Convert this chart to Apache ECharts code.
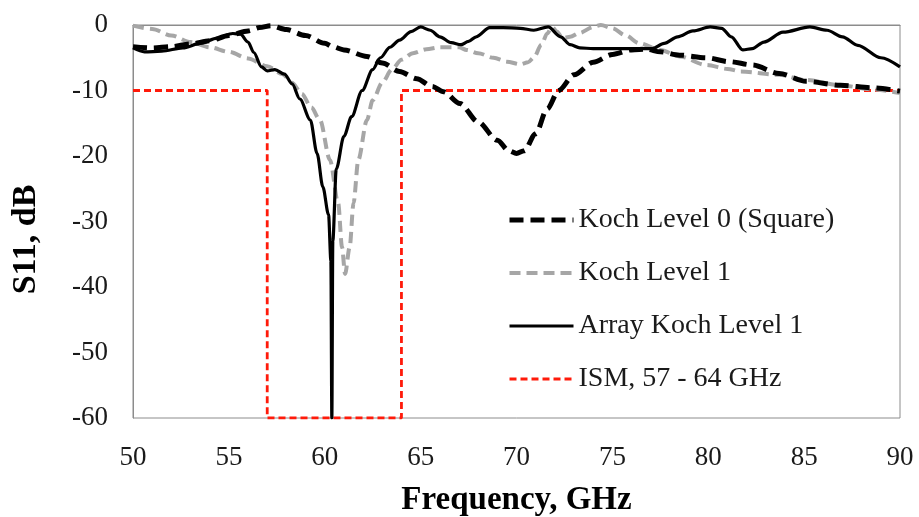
<!DOCTYPE html>
<html>
<head>
<meta charset="utf-8">
<script src="https://cdn.jsdelivr.net/npm/echarts@6/dist/echarts.min.js"></script>
<style>
  html, body { margin: 0; padding: 0; background: #fff; }
  #chart { width: 919px; height: 517px; }
</style>
</head>
<body>
<div id="chart"></div>
<script>
// x轴刻度
const xTicks = [50, 55, 60, 65, 70, 75, 80, 85, 90]
const yTicks = [0, -10, -20, -30, -40, -50, -60]

// Koch Level 0 (Square)
const k0Freq = [50, 51, 52, 53, 54, 55, 56, 56.6, 57.2, 58, 59, 60, 60.4, 61, 62.2, 63, 63.9, 64.8, 65.6, 66.2, 67.05, 68, 69, 69.6, 70, 70.4, 71, 71.6, 72.2, 73, 74, 75, 76, 76.8, 77.5, 78.5, 79.9, 81.1, 82.3, 83.7, 85.1, 86.9, 88.6, 90]
const k0Vals = [-3.3, -3.5, -3.3, -2.9, -2.4, -1.6, -0.9, -0.4, -0.1, -0.7, -1.6, -2.8, -3.3, -3.8, -4.8, -5.8, -7.1, -8.2, -9.4, -10.2, -12.0, -14.8, -17.6, -19.2, -19.6, -19.2, -16.6, -12.8, -10.0, -7.6, -5.7, -4.5, -3.8, -3.7, -4.1, -4.6, -5.0, -5.6, -6.1, -7.4, -8.6, -9.2, -9.6, -10.1]

// Koch Level 1
const k1Freq = [50, 51, 52, 53, 54, 55, 56, 57, 57.8, 58.3, 58.8, 59.3, 59.75, 60.27, 60.7, 60.9, 61.06, 61.3, 61.5, 61.75, 62.2, 62.5, 63, 63.5, 64, 64.6, 65.3, 66, 67, 67.4, 68, 68.8, 69.5, 70.2, 70.6, 70.9, 71.3, 71.6, 71.85, 72.1, 72.4, 72.8, 73.3, 74, 74.4, 75, 75.7, 76.4, 77.5, 78.5, 79.9, 81, 81.7, 83.7, 85.1, 86.9, 88.5, 90]
const k1Vals = [-0.1, -0.6, -1.6, -2.6, -3.4, -4.1, -5.1, -6.3, -7.5, -8.8, -10.5, -12.6, -14.5, -20.6, -27.2, -33.9, -38, -33.9, -27.2, -20.6, -14.5, -11.5, -8.8, -6.8, -5.3, -4.3, -3.7, -3.4, -3.4, -3.8, -4.3, -5.0, -5.6, -6.0, -5.7, -5.0, -3.0, -1.3, -0.3, -1.0, -2.0, -1.8, -1.2, -0.3, 0, -0.5, -1.6, -2.8, -3.8, -4.8, -6.1, -6.7, -7.1, -7.6, -8.4, -9.2, -9.8, -10.4]

// Array Koch Level 1
const arrFreq = [50, 50.6, 51.5, 52.6, 53.5, 54.4, 55.2, 55.6, 56, 56.3, 56.7, 57, 57.4, 57.9, 58.3, 58.7, 59.25, 59.6, 59.9, 60.2, 60.32, 60.37, 60.42, 60.6, 61, 61.4, 61.95, 62.5, 62.9, 63.4, 63.9, 64.5, 65, 65.5, 66, 66.6, 67.1, 67.5, 67.9, 68.6, 69.3, 70.2, 70.9, 71.65, 72.3, 72.8, 73.3, 74, 75.8, 77.1, 77.7, 78.4, 79.2, 80.1, 80.7, 81.2, 81.8, 82.3, 82.9, 83.9, 85.3, 86.2, 87, 87.8, 89, 90]
const arrVals = [-3.5, -4.1, -4.0, -3.5, -2.8, -2.0, -1.3, -1.4, -2.6, -4.2, -6.4, -7.0, -6.8, -7.5, -9.0, -11.3, -14.5, -19.6, -24.7, -29, -36, -60, -33, -22, -17.0, -14.0, -10.0, -6.8, -5.0, -3.4, -2.3, -1.0, -0.3, -0.8, -1.8, -2.7, -3.0, -2.5, -1.8, -0.4, -0.4, -0.5, -0.8, -0.3, -1.8, -3.0, -3.5, -3.6, -3.6, -3.6, -2.8, -1.8, -0.9, -0.3, -0.5, -1.8, -3.8, -3.6, -2.6, -1.1, -0.3, -0.8, -1.8, -3.1, -5.0, -6.4]

// ISM, 57 - 64 GHz
const ismFreq = [50, 57, 57, 64, 64, 90]
const ismVals = [-10, -10, -60, -60, -10, -10]

const pair = (xs, ys) => xs.map((x, i) => [x, ys[i]])

const font = 'Liberation Serif, Times New Roman, serif'
const myChart = echarts.init(document.getElementById('chart'))
myChart.setOption({
  animation: false,
  backgroundColor: '#fff',
  grid: {
    left: 133,
    right: 19,
    top: 25,
    bottom: 99,
    outerBoundsMode: 'none',
    show: true,
    borderColor: '#8c8c8c',
    borderWidth: 1
  },
  legend: {
    orient: 'vertical',
    left: 502,
    top: 201,
    itemWidth: 64,
    itemHeight: 14,
    itemGap: 25,
    itemStyle: { opacity: 0 }, // 图例里不要圆点
    lineStyle: { width: 'inherit' },
    textStyle: {
      fontFamily: font,
      fontSize: 28,
      lineHeight: 28,
      color: '#1a1a1a'
    },
    data: ['Koch Level 0 (Square)', 'Koch Level 1', 'Array Koch Level 1', 'ISM, 57 - 64 GHz']
  },
  xAxis: {
    type: 'value',
    min: xTicks[0],
    max: xTicks[xTicks.length - 1],
    interval: 5,
    name: 'Frequency, GHz',
    nameLocation: 'middle',
    nameGap: 66,
    nameTextStyle: { fontFamily: font, fontSize: 33, fontWeight: 'bold', color: '#000' },
    axisLine: { lineStyle: { color: '#8c8c8c' } },
    axisTick: { show: false },
    splitLine: { show: false },
    axisLabel: { margin: 26, fontFamily: font, fontSize: 27, color: '#1a1a1a' }
  },
  yAxis: {
    type: 'value',
    min: yTicks[yTicks.length - 1],
    max: yTicks[0],
    interval: 10,
    name: 'S11, dB',
    nameLocation: 'middle',
    nameGap: 90,
    nameTextStyle: { fontFamily: font, fontSize: 34, fontWeight: 'bold', color: '#000', padding: [0, 36, 0, 0] },
    axisLine: { show: true, lineStyle: { color: '#8c8c8c' } },
    axisTick: { show: false },
    splitLine: { show: false },
    axisLabel: { margin: 25, fontFamily: font, fontSize: 27, color: '#1a1a1a' }
  },
  series: [
    {
      name: 'ISM, 57 - 64 GHz',
      type: 'line',
      symbol: 'none',
      z: 1,
      lineStyle: { color: '#ff1a0a', width: 2.8, type: [7, 4] },
      itemStyle: { color: '#ff1a0a' },
      data: pair(ismFreq, ismVals)
    },
    {
      name: 'Koch Level 1',
      type: 'line',
      symbol: 'none',
      smooth: 0.3,
      smoothMonotone: 'x',
      z: 2,
      lineStyle: { color: '#a6a6a6', width: 4, type: [11, 6] },
      itemStyle: { color: '#a6a6a6' },
      data: pair(k1Freq, k1Vals)
    },
    {
      name: 'Koch Level 0 (Square)',
      type: 'line',
      symbol: 'none',
      smooth: 0.3,
      smoothMonotone: 'x',
      z: 3,
      lineStyle: { color: '#000', width: 5, type: [14, 7] },
      itemStyle: { color: '#000' },
      data: pair(k0Freq, k0Vals)
    },
    {
      name: 'Array Koch Level 1',
      type: 'line',
      symbol: 'none',
      smooth: 0.3,
      smoothMonotone: 'x',
      z: 4,
      lineStyle: { color: '#000', width: 3.2 },
      itemStyle: { color: '#000' },
      data: pair(arrFreq, arrVals)
    }
  ]
})
</script>
</body>
</html>
